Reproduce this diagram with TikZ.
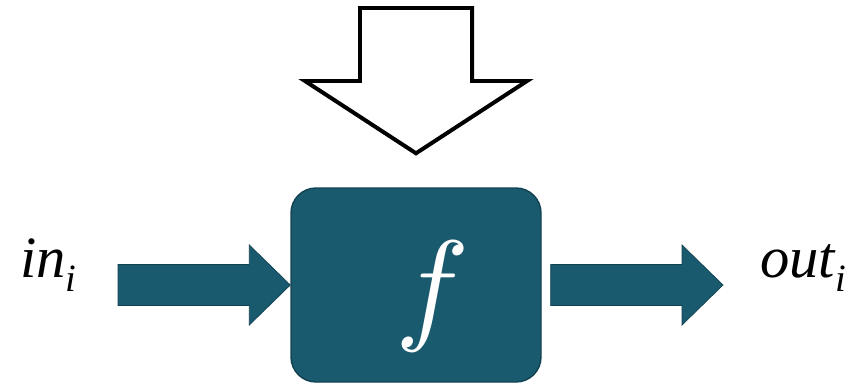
\documentclass[tikz,border=0pt]{standalone}
\usepackage{fontspec}
\setmainfont{Liberation Serif}
\usepackage{xcolor}
\usetikzlibrary{positioning,calc}
\definecolor{boxteal}{RGB}{26,90,110}
\definecolor{boxedge}{RGB}{18,66,82}

% fat block arrow: #1 tail, #2 tip
\newcommand{\fatarrow}[2]{%
  \filldraw[flowarrow] ($(#1)+(0,-20.5)$) -- ($(#2)+(-41,-20.5)$) -- ($(#2)+(-41,-40)$) -- (#2)
    -- ($(#2)+(-41,40)$) -- ($(#2)+(-41,20.5)$) -- ($(#1)+(0,20.5)$) -- cycle;}

\begin{document}
\begin{tikzpicture}[x=0.03cm,y=-0.03cm,
  fbox/.style={draw=boxedge,line width=1.2pt,fill=boxteal,rounded corners=0.75cm,minimum width=7.5cm,minimum height=5.82cm,inner sep=0pt},
  flowarrow/.style={fill=boxteal,draw=boxedge,line width=0.6pt},
  bigarrow/.style={draw=black,line width=3.4pt,fill=white,line join=miter},
  lbl/.style={font=\fontsize{50}{50}\selectfont\itshape,inner sep=0pt,anchor=base west}]
\useasboundingbox (0,0) rectangle (853,383);
% function box
\node[fbox] (func) at (416,285) {};
\node[text=white,inner sep=0pt] (fname) at (433,296) {\scalebox{10.6}{$f$}};
% labels
\node[lbl] (inlbl) at (20,277) {in\raisebox{-12pt}{\fontsize{33}{33}\selectfont i}};
\node[lbl] (outlbl) at (760,277) {out\raisebox{-12pt}{\fontsize{33}{33}\selectfont i}};
% flow arrows
\coordinate (intail) at (118,285);
\coordinate (outtail) at ([xshift=0.27cm]func.east);
\coordinate (outtip) at (723,285);
\fatarrow{intail}{func.west}
\fatarrow{outtail}{outtip}
% control arrow from above
\coordinate (ctop) at (416,8);
\coordinate (ctip) at ([yshift=1.02cm]func.north);
\draw[bigarrow] ($(ctop)+(-56,0)$) -- ($(ctop)+(56,0)$) -- ($(ctop)+(56,73)$) -- ($(ctop)+(111,73)$)
  -- (ctip) -- ($(ctop)+(-111,73)$) -- ($(ctop)+(-56,73)$) -- cycle;
\end{tikzpicture}
\end{document}
